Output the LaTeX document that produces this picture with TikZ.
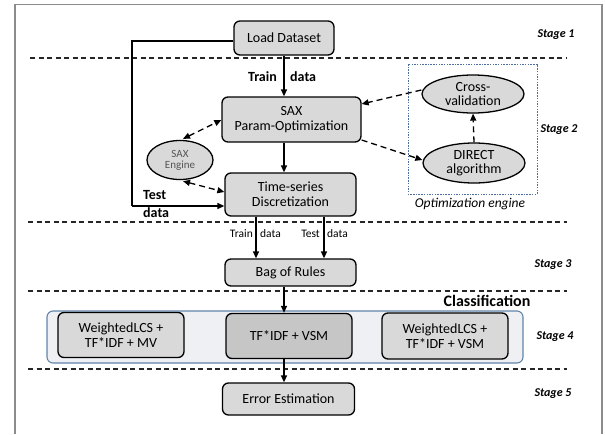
\documentclass[tikz,border=0pt]{standalone}
\usepackage{fontspec}
\setmainfont{Carlito}
\usetikzlibrary{shapes.geometric,arrows.meta}
\definecolor{boxfill}{HTML}{D9D9D9}
\definecolor{darkfill}{HTML}{C6C6C6}
\definecolor{groupfill}{HTML}{EEF0F3}
\definecolor{groupborder}{HTML}{6283AA}
\definecolor{optborder}{HTML}{4E6E9E}
\definecolor{framegray}{HTML}{8C8C8C}
\definecolor{enginetext}{HTML}{555555}
\tikzset{
  procbox/.style={draw=black, line width=1.3pt, fill=boxfill, rounded corners=6pt,
    align=center, inner sep=0pt, font=\fontsize{14}{16}\selectfont},
  ovalnode/.style={draw=black, line width=1.3pt, fill=boxfill, ellipse,
    align=center, inner sep=0pt, font=\fontsize{14}{16}\selectfont},
  stagelabel/.style={font=\fontsize{12}{14}\selectfont\bfseries\itshape, inner sep=0pt},
  sepline/.style={line width=1.1pt, dash pattern=on 5pt off 3.5pt, draw=black!85},
  flow/.style={line width=1.3pt, -{Triangle[length=7pt,width=6pt]}},
  dflow/.style={line width=1.3pt, dash pattern=on 6pt off 4pt, -{Triangle[length=7pt,width=6pt]}},
  ddflow/.style={line width=1.3pt, dash pattern=on 6pt off 4pt, {Triangle[length=7pt,width=6pt]}-{Triangle[length=7pt,width=6pt]}},
  boldlab/.style={font=\fontsize{14}{16}\selectfont\bfseries, inner sep=0pt},
  smalllab/.style={font=\fontsize{11.5}{13}\selectfont, inner sep=0pt},
}
\begin{document}
\begin{tikzpicture}[x=1pt,y=-1pt]
\useasboundingbox (0,0) rectangle (605,434);
% frame
\draw[framegray, line width=1.4pt] (15,434) -- (15,4.5) -- (602,4.5) -- (602,434);
% separators
\draw[sepline] (30,58) -- (567,58);
\draw[sepline] (28,222) -- (567,222);
\draw[sepline] (28,291) -- (567,291);
\draw[sepline] (28,369) -- (567,369);
% stage labels
\node[stagelabel] (s1) at (556,35) {Stage 1};
\node[stagelabel] (s2) at (559,130) {Stage 2};
\node[stagelabel] (s3) at (553,265) {Stage 3};
\node[stagelabel] (s4) at (555,337) {Stage 4};
\node[stagelabel] (s5) at (553,394) {Stage 5};
% optimization engine
\draw[optborder, line width=1pt, dash pattern=on 1.5pt off 1.2pt] (408,64) rectangle (537,194);
\node[font=\fontsize{13.5}{15}\selectfont\itshape, inner sep=0pt] (optlab) at (470,204) {Optimization engine};
\node[ovalnode, minimum width=102pt, minimum height=38pt] (cv) at (473,94) {Cross-\\[-2pt]validation};
\node[ovalnode, minimum width=102pt, minimum height=40pt] (direct) at (474,163) {DIRECT\\[-2pt]algorithm};
% classification group
\node[draw=groupborder, line width=1.1pt, fill=groupfill, rounded corners=6pt,
  minimum width=476pt, minimum height=52pt, inner sep=0pt] (group) at (285,337) {};
\node[font=\fontsize{16}{18}\selectfont\bfseries, inner sep=0pt] (classlab) at (487,301) {Classification};
% boxes
\node[procbox, minimum width=100pt, minimum height=34pt] (load) at (284,38) {Load Dataset};
\node[procbox, minimum width=139pt, minimum height=45pt] (sax) at (291.5,119.5) {SAX\\[-1pt]Param-Optimization};
\node[procbox, minimum width=131pt, minimum height=43pt] (ts) at (290.5,194.5) {Time-series\\[-1pt]Discretization};
\node[procbox, minimum width=131pt, minimum height=27pt] (bag) at (290.5,272.5) {Bag of Rules};
\node[procbox, minimum width=126pt, minimum height=45pt] (c1) at (121,335) {WeightedLCS +\\[-1pt]TF*IDF + MV};
\node[procbox, fill=darkfill, minimum width=126pt, minimum height=45pt] (c2) at (289,336) {TF*IDF + VSM};
\node[procbox, minimum width=126pt, minimum height=46pt] (c3) at (445,336) {WeightedLCS +\\[-1pt]TF*IDF + VSM};
\node[procbox, minimum width=132pt, minimum height=32pt] (err) at (288.5,399) {Error Estimation};
\node[ovalnode, minimum width=66pt, minimum height=39pt, font=\fontsize{11}{12}\selectfont, text=enginetext] (engine) at (180,160) {SAX\\[-1pt]Engine};
% top train data
\draw[flow] (load.south -| 284,0) -- (sax.north -| 284,0);
\node[boldlab, anchor=east] (trainT) at (277,77) {Train};
\node[boldlab, anchor=west] (dataT) at (290,77) {data};
% sax -> ts
\draw[flow] (sax.south -| 284,0) -- (ts.north -| 284,0);
% test data path
\coordinate (tl1) at (132,41);
\coordinate (tl2) at (132,206);
\draw[line width=1.3pt] (load.west |- 0,41) -- (tl1) -- (tl2);
\draw[flow] (tl2) -- (ts.west |- 0,206);
\node[boldlab, anchor=west] (testL) at (143,195) {Test};
\node[boldlab, anchor=west] (dataL) at (143,213) {data};
% engine links
\draw[ddflow] (engine.north) ++(3,-1) coordinate (e1) (e1) -- (sax.west |- 0,120);
\draw[ddflow] (engine.south) ++(3,1) coordinate (e2) (e2) -- (ts.west |- 0,192);
% optimization links
\draw[dflow] (cv.west |- 0,90) -- (sax.east |- 0,104);
\draw[dflow] (sax.east |- 0,140) -- (direct.west |- 0,160);
\draw[dflow] (direct.north) -- (cv.south);
% ts -> bag
\draw[flow] (ts.south -| 256,0) -- (bag.north -| 256,0);
\draw[flow] (ts.south -| 324,0) -- (bag.north -| 324,0);
\node[smalllab, anchor=east] (trainB) at (253,234) {Train};
\node[smalllab, anchor=west] (dataB1) at (260,234) {data};
\node[smalllab, anchor=east] (testB) at (320,234) {Test};
\node[smalllab, anchor=west] (dataB2) at (327,234) {data};
% bag -> classification -> error
\draw[flow] (bag.south -| 284,0) -- (c2.north -| 284,0);
\draw[flow] (c2.south -| 284,0) -- (err.north -| 284,0);
\end{tikzpicture}
\end{document}
